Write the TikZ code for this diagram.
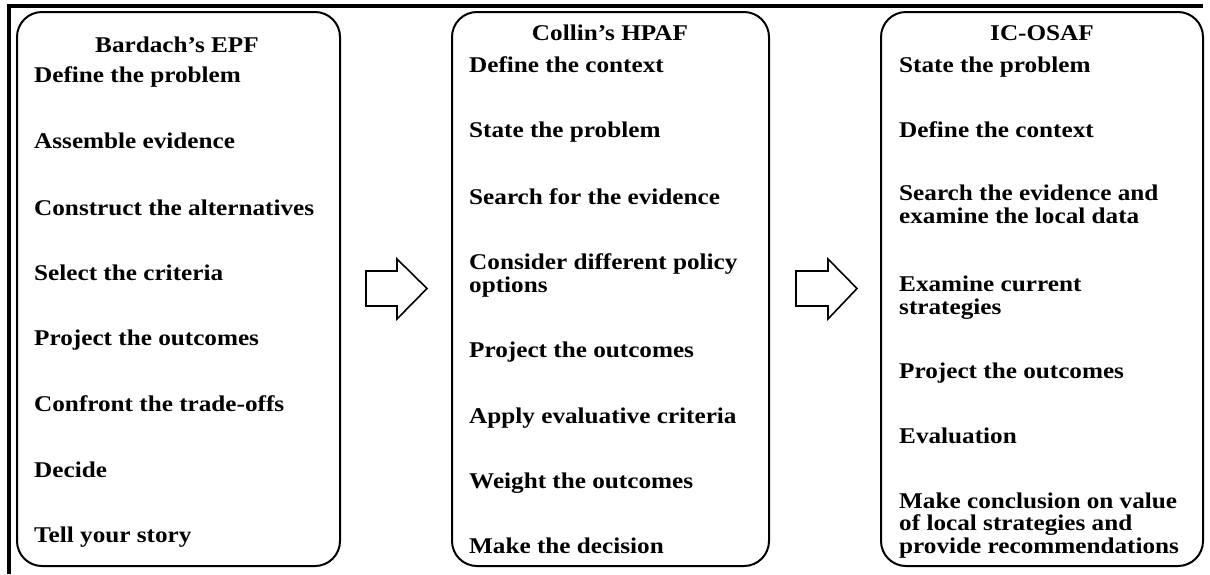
\documentclass[tikz,border=0pt]{standalone}
\usepackage{fontspec}
\setmainfont{Liberation Serif}[FakeStretch=1.12]
\usetikzlibrary{positioning}

\begin{document}
\begin{tikzpicture}[x=1pt, y=-1pt,
  stagebox/.style={rectangle, draw, line width=2pt, rounded corners=25pt, inner sep=0pt},
  heading/.style={anchor=base, inner sep=0pt, font=\fontsize{22.5}{23}\selectfont\bfseries},
  item/.style={anchor=base west, inner sep=0pt, align=left, font=\fontsize{22.5}{22.5}\selectfont\bfseries},
  blockarrow/.style={draw, line width=1.6pt, line join=miter, fill=white}]
   \useasboundingbox (0,0) rectangle (1210,574);
   % outer frame
   \draw[line width=4pt] (8.5,574) -- (8.5,6) -- (1203,6);
   % the three frameworks
   \node[stagebox, minimum width=323pt, minimum height=554pt] (epf) at (178.5,289) {};
   \node[stagebox, minimum width=317pt, minimum height=554pt] (hpaf) at (610.5,289) {};
   \node[stagebox, minimum width=322pt, minimum height=554pt] (osaf) at (1042,289) {};
   \node[heading] (epfhead) at (177,52) {Bardach’s EPF};
   \node[heading] (hpafhead) at (610,40) {Collin’s HPAF};
   \node[heading] (osafhead) at (1042,40) {IC-OSAF};
   % steps (y = baseline of the last line)
   \foreach \y/\t [count=\i] in {82/Define the problem, 148/Assemble evidence,
      215/Construct the alternatives, 280/Select the criteria, 345/Project the outcomes,
      411/Confront the trade-offs, 477/Decide, 542/Tell your story}
      \node[item] (epf\i) at (34,\y) {\t};
   \foreach \y/\t [count=\i] in {72/Define the context, 137/State the problem,
      204/Search for the evidence, 292/{Consider different policy\\options},
      357/Project the outcomes, 423/Apply evaluative criteria,
      488/Weight the outcomes, 553/Make the decision}
      \node[item] (hpaf\i) at (469,\y) {\t};
   \foreach \y/\t [count=\i] in {72/State the problem, 137/Define the context,
      223/{Search the evidence and\\examine the local data},
      314/{Examine current\\strategies}, 378/Project the outcomes, 443/Evaluation,
      553/{Make conclusion on value\\of local strategies and\\provide recommendations}}
      \node[item] (osaf\i) at (899,\y) {\t};
   % block arrows
   \draw[blockarrow] (366,271) -- (397,271) -- (397,259) -- (427,288.5) -- (397,319) -- (397,306) -- (366,306) -- cycle;
   \draw[blockarrow] (796,271) -- (828,271) -- (828,259) -- (857,288.5) -- (828,319) -- (828,306) -- (796,306) -- cycle;
\end{tikzpicture}
\end{document}
